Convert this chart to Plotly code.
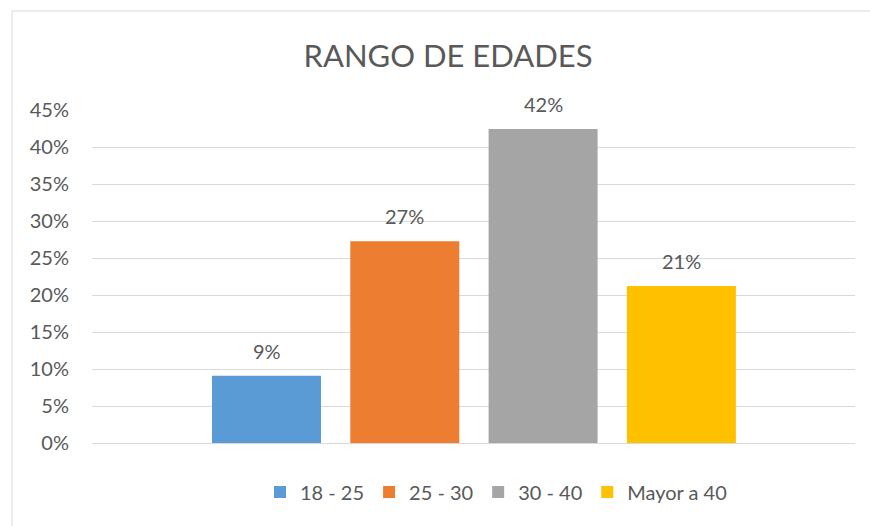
import plotly.graph_objects as go

series = ["18 - 25", "25 - 30", "30 - 40", "Mayor a 40"]
values = [0.0909, 0.2727, 0.4242, 0.2121]
labels = ["9%", "27%", "42%", "21%"]
colors = ["#5B9BD5", "#ED7D31", "#A5A5A5", "#FFC000"]
y_ticks = [0, 0.05, 0.10, 0.15, 0.20, 0.25, 0.30, 0.35, 0.40, 0.45]
y_tick_text = ["0%", "5%", "10%", "15%", "20%", "25%", "30%", "35%", "40%", "45%"]

FONT = "Lato"
TXT = "#595959"

W, H = 870, 526
ML, MR, MT, MB = 92, 15, 110, 83
PW = W - ML - MR
PH = H - MT - MB

fig = go.Figure()
for name, val, col in zip(series, values, colors):
    fig.add_trace(go.Bar(x=[name], y=[val], name=name, marker=dict(color=col, line=dict(width=0)),
                         hoverinfo="skip"))

for name, val, lab in zip(series, values, labels):
    fig.add_annotation(x=name, y=val, text=lab, showarrow=False, yanchor="middle", yshift=25,
                       font=dict(family=FONT, size=20, color=TXT))

# chart-area border
fig.add_shape(type="rect", xref="paper", yref="paper",
              x0=(12 - ML) / PW, x1=(W + 5 - ML) / PW,
              y0=-(H + 5 - (MT + PH)) / PH, y1=(MT + PH - 11) / PH,
              line=dict(color="#D9D9D9", width=1), fillcolor="rgba(0,0,0,0)", layer="below")

# category spacing ~138.3 px, first bar center at x=266.5
sp = 138.3
x0 = (ML - 266.5) / sp
x1 = (ML + PW - 266.5) / sp

fig.update_layout(
    width=W, height=H,
    margin=dict(l=ML, r=MR, t=MT, b=MB),
    paper_bgcolor="white", plot_bgcolor="white",
    barmode="overlay", bargap=0.212,
    showlegend=True,
    title=dict(text="RANGO DE EDADES", x=448 / W, xanchor="center", y=1 - 56 / H, yanchor="middle",
               yref="container", font=dict(family=FONT, size=31, color=TXT)),
    legend=dict(orientation="h", x=(496 - ML) / PW, xanchor="center", y=-(492 - (MT + PH)) / PH,
                yanchor="middle", font=dict(family=FONT, size=20, color=TXT),
                itemclick=False, itemdoubleclick=False, traceorder="normal"),
    xaxis=dict(range=[x0, x1], showticklabels=False, showgrid=False, zeroline=False,
               showline=False, ticks="", fixedrange=True),
    yaxis=dict(range=[0, 0.45], tickvals=y_ticks, ticktext=y_tick_text, showgrid=True,
               gridcolor="#D9D9D9", gridwidth=1, zeroline=True, zerolinecolor="#D9D9D9",
               zerolinewidth=1, showline=False, ticks="", ticklabelstandoff=22,
               tickfont=dict(family=FONT, size=20, color=TXT), fixedrange=True),
)

fig.write_html("out.html", config={"displayModeBar": False},
               post_script="document.body.style.margin='0';document.body.style.padding='0';")
